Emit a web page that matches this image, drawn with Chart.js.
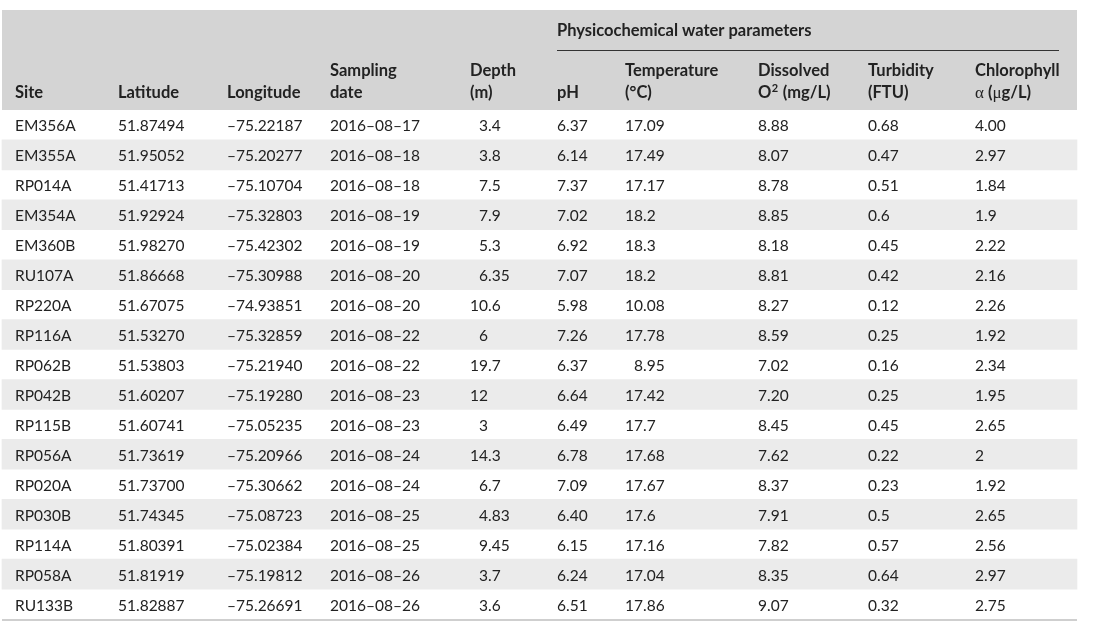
<!DOCTYPE html>
<html>
<head>
<meta charset="utf-8">
<script src="https://cdn.jsdelivr.net/npm/chart.js@4.4.1/dist/chart.umd.min.js"></script>
<style>
html,body{margin:0;padding:0;background:#ffffff;}
#wrap{width:1103px;height:629px;position:relative;}
</style>
</head>
<body>
<div id="wrap"><canvas id="c"></canvas></div>
<script>
const groupTitle = "Physicochemical water parameters";
const headers = [
  ["Site"], ["Latitude"], ["Longitude"], ["Sampling", "date"], ["Depth", "(m)"],
  ["pH"], ["Temperature", "(°C)"], ["Dissolved", "O² (mg/L)"], ["Turbidity", "(FTU)"], ["Chlorophyll", "α (μg/L)"]
];
const sites = ["EM356A","EM355A","RP014A","EM354A","EM360B","RU107A","RP220A","RP116A","RP062B","RP042B","RP115B","RP056A","RP020A","RP030B","RP114A","RP058A","RU133B"];
const latitude = ["51.87494","51.95052","51.41713","51.92924","51.98270","51.86668","51.67075","51.53270","51.53803","51.60207","51.60741","51.73619","51.73700","51.74345","51.80391","51.81919","51.82887"];
const longitude = ["–75.22187","–75.20277","–75.10704","–75.32803","–75.42302","–75.30988","–74.93851","–75.32859","–75.21940","–75.19280","–75.05235","–75.20966","–75.30662","–75.08723","–75.02384","–75.19812","–75.26691"];
const samplingDate = ["2016–08–17","2016–08–18","2016–08–18","2016–08–19","2016–08–19","2016–08–20","2016–08–20","2016–08–22","2016–08–22","2016–08–23","2016–08–23","2016–08–24","2016–08–24","2016–08–25","2016–08–25","2016–08–26","2016–08–26"];
const depth = ["\u20073.4","\u20073.8","\u20077.5","\u20077.9","\u20075.3","\u20076.35","10.6","\u20076","19.7","12","\u20073","14.3","\u20076.7","\u20074.83","\u20079.45","\u20073.7","\u20073.6"];
const pH = ["6.37","6.14","7.37","7.02","6.92","7.07","5.98","7.26","6.37","6.64","6.49","6.78","7.09","6.40","6.15","6.24","6.51"];
const temperature = ["17.09","17.49","17.17","18.2","18.3","18.2","10.08","17.78","\u20078.95","17.42","17.7","17.68","17.67","17.6","17.16","17.04","17.86"];
const dissolvedO2 = ["8.88","8.07","8.78","8.85","8.18","8.81","8.27","8.59","7.02","7.20","8.45","7.62","8.37","7.91","7.82","8.35","9.07"];
const turbidity = ["0.68","0.47","0.51","0.6","0.45","0.42","0.12","0.25","0.16","0.25","0.45","0.22","0.23","0.5","0.57","0.64","0.32"];
const chlorophyll = ["4.00","2.97","1.84","1.9","2.22","2.16","2.26","1.92","2.34","1.95","2.65","2","1.92","2.65","2.56","2.97","2.75"];

const columns = [sites, latitude, longitude, samplingDate, depth, pH, temperature, dissolvedO2, turbidity, chlorophyll];

// ---- Layout / style ----
const colX = [15, 118, 227, 330, 470, 557, 625, 758, 868, 975];
const tableLeft = 2, tableRight = 1077;
const headerTop = 10, headerBottom = 110, tableBottom = 619;
const groupRule = {x0: 557, x1: 1059, y: 50};
const textColor = "#222222";
const headerBg = "#d4d4d4";
const stripeBg = "#ebebeb";
const bodyFont = "15.5px Lato";
const headFont = "bold 16.5px Lato";

function drawRich(ctx, text, x, y) {
  let cx = x;
  for (const ch of text) {
    if (ch === "²") {
      ctx.font = "bold 11px Lato";
      ctx.fillText("2", cx + 0.5, y - 6.5);
      cx += ctx.measureText("2").width + 1;
    } else if (ch === "α" || ch === "μ") {
      ctx.font = "17px 'Liberation Serif'";
      ctx.fillText(ch, cx, y);
      cx += ctx.measureText(ch).width;
    } else {
      ctx.font = headFont;
      ctx.fillText(ch, cx, y);
      cx += ctx.measureText(ch).width;
    }
  }
}

const tablePlugin = {
  id: "tablePlugin",
  beforeDatasetsDraw(chart) {
    const ctx = chart.ctx;
    ctx.save();
    ctx.fillStyle = headerBg;
    ctx.fillRect(tableLeft, headerTop, tableRight - tableLeft, headerBottom - headerTop);
    ctx.restore();
  },
  afterDatasetsDraw(chart) {
    const ctx = chart.ctx;
    const xs = chart.scales.x, ys = chart.scales.y;
    ctx.save();
    ctx.fillStyle = textColor;
    ctx.textAlign = "left";
    ctx.textBaseline = "alphabetic";
    // body cells
    ctx.font = bodyFont;
    columns.forEach((col, j) => {
      const px = xs.getPixelForValue(colX[j]);
      col.forEach((val, i) => {
        const py = ys.getPixelForValue(i);
        ctx.fillText(val, px, py + 6.5);
      });
    });
    // headers
    headers.forEach((lines, j) => {
      const px = xs.getPixelForValue(colX[j]);
      const n = lines.length;
      lines.forEach((ln, k) => {
        const by = 98 - (n - 1 - k) * 22;
        if (/[²αμ]/.test(ln)) drawRich(ctx, ln, px, by);
        else { ctx.font = headFont; ctx.fillText(ln, px, by); }
      });
    });
    ctx.font = headFont;
    ctx.fillText(groupTitle, groupRule.x0, 36);
    // rule under group title
    ctx.strokeStyle = "#333333";
    ctx.lineWidth = 1;
    ctx.beginPath();
    ctx.moveTo(groupRule.x0, groupRule.y + 0.5);
    ctx.lineTo(groupRule.x1, groupRule.y + 0.5);
    ctx.stroke();
    // bottom rule
    ctx.strokeStyle = "#cfcfcf";
    ctx.lineWidth = 2;
    ctx.beginPath();
    ctx.moveTo(tableLeft, tableBottom + 1);
    ctx.lineTo(tableRight, tableBottom + 1);
    ctx.stroke();
    ctx.restore();
  }
};

const stripeData = sites.map((s, i) => (i % 2 === 1 ? [tableLeft, tableRight] : null));

new Chart(document.getElementById("c"), {
  type: "bar",
  data: {
    labels: sites,
    datasets: [{
      data: stripeData,
      backgroundColor: stripeBg,
      borderWidth: 0,
      barPercentage: 1,
      categoryPercentage: 1
    }]
  },
  options: {
    indexAxis: "y",
    responsive: true,
    maintainAspectRatio: false,
    animation: false,
    layout: { padding: { left: 0, right: 0, top: headerBottom, bottom: 629 - tableBottom } },
    plugins: { legend: { display: false }, tooltip: { enabled: false } },
    scales: {
      x: { type: "linear", min: 0, max: 1103, display: false },
      y: { type: "category", display: false, offset: true }
    }
  },
  plugins: [tablePlugin]
});
</script>
</body>
</html>
